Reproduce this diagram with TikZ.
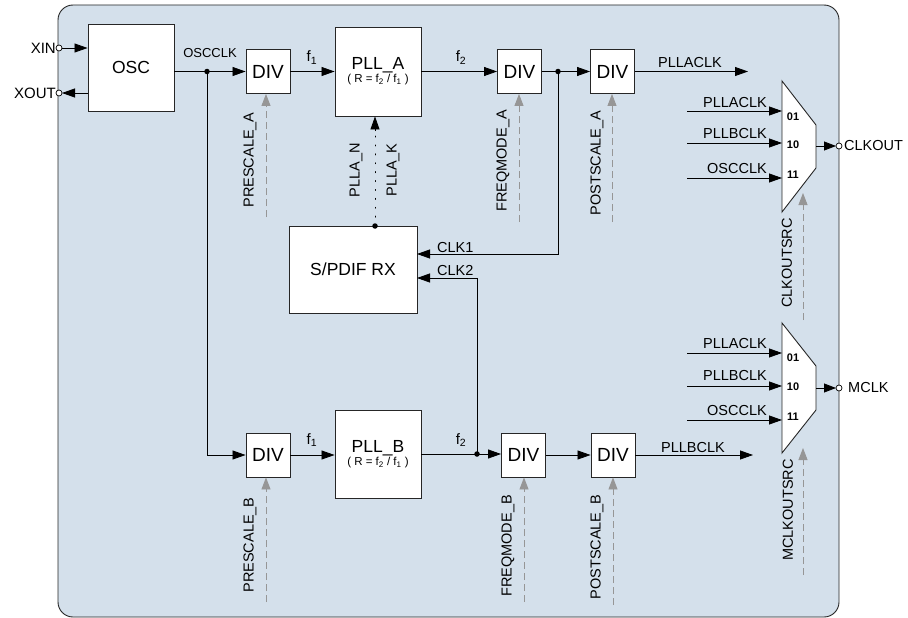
\documentclass[tikz,border=0pt]{standalone}
\usepackage{fontspec}
\setmainfont{Liberation Sans}
\usetikzlibrary{arrows.meta,calc}
\definecolor{bgblue}{RGB}{212,224,235}
\definecolor{ctrlgray}{RGB}{150,150,150}
\newcommand{\ratiotxt}{\fontsize{11.5}{13}\selectfont ( R = f\textsubscript{2} / f\textsubscript{1} )}
\begin{document}
\begin{tikzpicture}[x=1pt,y=-1pt,
  blk/.style={draw=black!85, fill=white, line width=0.9pt, inner sep=0pt},
  divbox/.style={blk, minimum width=44pt, minimum height=44pt, font=\fontsize{19}{21}\selectfont},
  bigbox/.style={blk, minimum width=86pt, minimum height=88pt, align=center},
  arr/.style={line width=0.8pt, -{Triangle[length=13pt,width=9pt]}},
  ctrl/.style={draw=ctrlgray, line width=0.9pt, dash pattern=on 7pt off 4pt, -{Triangle[length=12pt,width=9pt]}},
  lbl/.style={font=\fontsize{14.5}{16}\selectfont, inner sep=0pt},
  smlbl/.style={font=\fontsize{13}{15}\selectfont, inner sep=0pt},
  vlbl/.style={lbl, rotate=90},
  num/.style={font=\fontsize{11}{12}\selectfont\bfseries, inner sep=0pt},
  dot/.style={circle, fill=black, inner sep=0pt, minimum size=5.5pt},
  port/.style={circle, draw=black, fill=white, line width=0.7pt, inner sep=0pt, minimum size=6pt}
]
\useasboundingbox (0,0) rectangle (908,618);
% background
\draw[fill=bgblue, draw=black!85, line width=0.9pt, rounded corners=15pt] (58,5) rectangle (839,617);

% blocks
\node[blk, minimum width=86pt, minimum height=87pt, font=\fontsize{17.5}{19}\selectfont] (osc) at (131,67.5) {OSC};
\node[divbox] (divA1) at (268,71.5) {DIV};
\node[bigbox, minimum height=89pt] (pllA) at (378,71.5) {\fontsize{17.5}{19}\selectfont PLL\_A\\[1pt]\ratiotxt};
\node[divbox] (divA2) at (519.5,71.5) {DIV};
\node[divbox] (divA3) at (612.5,71.5) {DIV};
\node[blk, minimum width=128pt, minimum height=87pt, font=\fontsize{17.5}{19}\selectfont] (spdif) at (353,269.5) {S/PDIF RX};
\node[divbox] (divB1) at (268,455) {DIV};
\node[bigbox] (pllB) at (378,454) {\fontsize{17.5}{19}\selectfont PLL\_B\\[1pt]\ratiotxt};
\node[divbox] (divB2) at (523.5,455) {DIV};
\node[divbox] (divB3) at (613,455) {DIV};

% multiplexers
\draw[blk] (782,81) -- (816,125) -- (816,168) -- (782,212) -- cycle;
\draw[blk] (782,323) -- (816,366) -- (816,410) -- (782,453) -- cycle;

% coordinates
\coordinate (xin) at (59,48);
\coordinate (xout) at (59,93);
\coordinate (jOsc) at (207,71.5);
\coordinate (jA) at (558,71.5);
\coordinate (jB) at (477,454);
\coordinate (pdot) at (375,226);
\coordinate (pk) at (375,131);
\coordinate (clk1in) at (417,254);
\coordinate (clk2in) at (417,278);
\coordinate (pllaclkout) at (748,71.5);
\coordinate (pllbclkout) at (753,455);
\coordinate (m1o) at (816,146);
\coordinate (clkout) at (839,146);
\coordinate (m2o) at (816,388);
\coordinate (mclk) at (839,388);

% main signal paths
\draw[arr] (xin) -- (osc.west |- xin);
\draw[arr, shorten >=3pt] (osc.west |- xout) -- (xout);
\draw[arr] (osc.east |- divA1.west) -- (divA1.west);
\draw[arr] (divA1.east) -- (pllA.west |- divA1.east);
\draw[arr] (pllA.east |- divA2.west) -- (divA2.west);
\draw[arr] (divA2.east) -- (divA3.west);
\draw[arr] (divA3.east) -- (pllaclkout);
\draw[arr] (jA) |- (clk1in);
\draw[arr] (jOsc) |- (divB1.west);
\draw[arr] (divB1.east) -- (pllB.west |- divB1.east);
\draw[arr] (pllB.east |- jB) -- (divB2.west |- jB);
\draw[arr] (jB) |- (clk2in);
\draw[arr] (divB2.east) -- (divB3.west);
\draw[arr] (divB3.east) -- (pllbclkout);
\draw[line width=1pt, dash pattern=on 0.9pt off 8pt, line cap=round] (pdot) -- (pk);
\draw[arr] (pk) -- (pllA.south -| pk);

% mux inputs
\foreach \y/\n in {111/a,143/b,178/c} {
  \coordinate (m1s\n) at (687,\y); \coordinate (m1e\n) at (782,\y);
  \draw[arr] (m1s\n) -- (m1e\n);
}
\foreach \y/\n in {353/a,386/b,420/c} {
  \coordinate (m2s\n) at (687,\y); \coordinate (m2e\n) at (782,\y);
  \draw[arr] (m2s\n) -- (m2e\n);
}
\draw[arr, -{Triangle[length=12pt,width=9pt]}, shorten >=3pt] (m1o) -- (clkout);
\draw[arr, -{Triangle[length=12pt,width=9pt]}, shorten >=3pt] (m2o) -- (mclk);

% control (dashed) arrows
\coordinate (cPA) at (266,217);
\coordinate (cFA) at (519,222);
\coordinate (cSA) at (612,222);
\coordinate (cPB) at (266,602);
\coordinate (cFB) at (524,602);
\coordinate (cSB) at (613,605);
\coordinate (cM1) at (803,320);
\coordinate (cM1t) at (803,193);
\coordinate (cM2) at (803,575);
\coordinate (cM2t) at (803,448);
\draw[ctrl] (cPA) -- (cPA |- divA1.south);
\draw[ctrl] (cFA) -- (cFA |- divA2.south);
\draw[ctrl] (cSA) -- (cSA |- divA3.south);
\draw[ctrl] (cPB) -- (cPB |- divB1.south);
\draw[ctrl] (cFB) -- (cFB |- divB2.south);
\draw[ctrl] (cSB) -- (cSB |- divB3.south);
\draw[ctrl] (cM1) -- (cM1t);
\draw[ctrl] (cM2) -- (cM2t);

% dots and ports
\node[dot] (dOsc) at (jOsc) {};
\node[dot] (dA) at (jA) {};
\node[dot] (dB) at (jB) {};
\node[dot] (dP) at (pdot) {};
\node[port] (pXin) at (xin) {};
\node[port] (pXout) at (xout) {};
\node[port] (pClkout) at (clkout) {};
\node[port] (pMclk) at (mclk) {};

% labels
\node[lbl, font=\fontsize{15}{17}\selectfont, anchor=base east] (tXin) at (56,54) {XIN};
\node[lbl, font=\fontsize{15}{17}\selectfont, anchor=base east] (tXout) at (56,99) {XOUT};
\node[smlbl, anchor=base] (tOscclk) at (210,58) {OSCCLK};
\node[lbl, font=\fontsize{15}{17}\selectfont, anchor=base] (tf1a) at (312,62) {f\textsubscript{1}};
\node[lbl, font=\fontsize{15}{17}\selectfont, anchor=base] (tf2a) at (461,62) {f\textsubscript{2}};
\node[lbl, anchor=base] (tPllaclk) at (690,67) {PLLACLK};
\node[lbl, anchor=base west] (tClk1) at (437,252) {CLK1};
\node[lbl, anchor=base west] (tClk2) at (437,275) {CLK2};
\node[lbl, font=\fontsize{15}{17}\selectfont, anchor=base] (tf1b) at (312,444) {f\textsubscript{1}};
\node[lbl, font=\fontsize{15}{17}\selectfont, anchor=base] (tf2b) at (461,444) {f\textsubscript{2}};
\node[lbl, anchor=base] (tPllbclk) at (693,452) {PLLBCLK};

\node[lbl, anchor=base east] (t1a) at (767,107) {PLLACLK};
\node[lbl, anchor=base east] (t1b) at (767,138) {PLLBCLK};
\node[lbl, anchor=base east] (t1c) at (767,173) {OSCCLK};
\node[lbl, anchor=base east] (t2a) at (767,348) {PLLACLK};
\node[lbl, anchor=base east] (t2b) at (767,380) {PLLBCLK};
\node[lbl, anchor=base east] (t2c) at (767,415) {OSCCLK};
\node[num] (n1a) at (793,117) {01};
\node[num] (n1b) at (793,145) {10};
\node[num] (n1c) at (793,175) {11};
\node[num] (n2a) at (793,358) {01};
\node[num] (n2b) at (793,387) {10};
\node[num] (n2c) at (793,417) {11};
\node[lbl, anchor=west] (tClkout) at (844,146) {CLKOUT};
\node[lbl, anchor=west] (tMclk) at (848,388) {MCLK};

\node[vlbl] (vPA) at (250,160) {PRESCALE\_A};
\node[vlbl] (vFA) at (503,161) {FREQMODE\_A};
\node[vlbl] (vSA) at (597,163) {POSTSCALE\_A};
\node[vlbl] (vN) at (356,170) {PLLA\_N};
\node[vlbl] (vK) at (393,170) {PLLA\_K};
\node[vlbl] (vC1) at (787,263) {CLKOUTSRC};
\node[vlbl] (vPB) at (250,545) {PRESCALE\_B};
\node[vlbl] (vFB) at (508,546) {FREQMODE\_B};
\node[vlbl] (vSB) at (597,547) {POSTSCALE\_B};
\node[vlbl] (vC2) at (788,510) {MCLKOUTSRC};
\end{tikzpicture}
\end{document}
